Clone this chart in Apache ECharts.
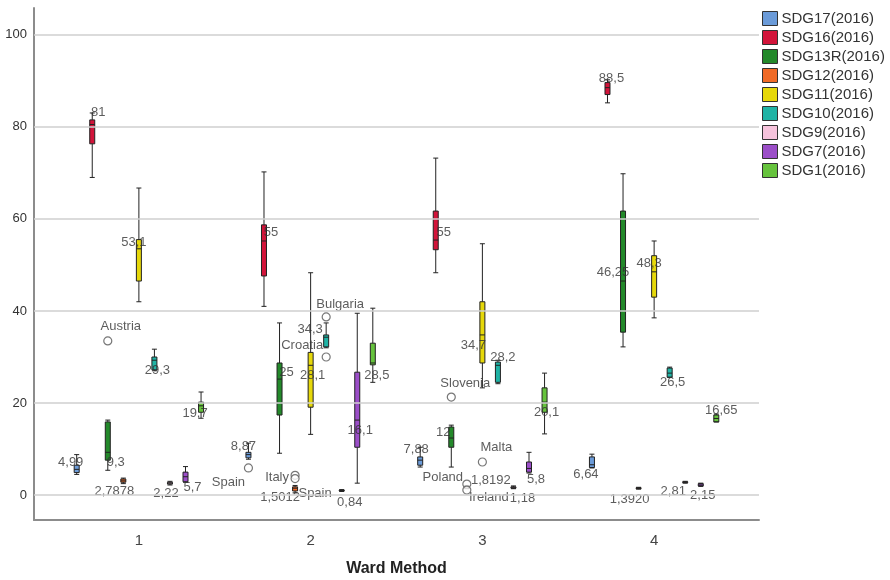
<!DOCTYPE html>
<html>
<head>
<meta charset="utf-8">
<script src="https://cdn.jsdelivr.net/npm/echarts@6/dist/echarts.min.js"></script>
<style>
  html, body { margin: 0; background: #fff; }
  #chart { width: 890px; height: 580px; }
</style>
</head>
<body>
<div id="chart"></div>
<script>
const groups = ['1', '2', '3', '4'];
const names = ['SDG17(2016)', 'SDG16(2016)', 'SDG13R(2016)', 'SDG12(2016)', 'SDG11(2016)',
  'SDG10(2016)', 'SDG9(2016)', 'SDG7(2016)', 'SDG1(2016)'];
const colors = ['#6b9bd9', '#d2143a', '#23892a', '#f06a26', '#e6d80a',
  '#1fb3a5', '#f6c3dc', '#9b4ec8', '#66c33d'];
const yTicks = [0, 20, 40, 60, 80, 100];

// [min, Q1, median, Q3, max] for Ward clusters 1..4
const sdg17 = [[4.5, 4.9, 5.6, 6.5, 8.8], [7.8, 8.1, 8.8, 9.3, 11.3], [6.1, 6.5, 7.6, 8.3, 10.4], [5.9, 6.0, 6.6, 8.3, 8.9]];
const sdg16 = [[69, 76.3, 80.5, 81.5, 83], [41, 47.6, 55.2, 58.7, 70.2], [48.3, 53.3, 55.4, 61.7, 73.2], [85.2, 87, 88.5, 89.6, 90.2]];
const sdg13r = [[5.4, 7.6, 9.3, 15.9, 16.3], [9.1, 17.4, 25.2, 28.7, 37.4], [6.1, 10.4, 12.4, 14.8, 15.2], [32.2, 35.4, 46.5, 61.7, 69.8]];
const sdg12 = [[2.5, 2.8, 3.1, 3.5, 3.7], [0.5, 0.9, 1.5, 1.8, 2.1], [1.4, 1.5, 1.8, 2.0, 2.1], [1.3, 1.4, 1.5, 1.6, 1.7]];
const sdg11 = [[42, 46.5, 53.5, 55.5, 66.7], [13.2, 19.1, 28.2, 31, 48.3], [23.3, 28.7, 34.8, 42, 54.6], [38.5, 43, 48.5, 52, 55.2]];
const sdg10 = [[27, 27.2, 29.3, 30, 31.7], [32, 32.2, 34.3, 34.8, 37.4], [24.2, 24.5, 28.2, 28.9, 29.3], [25.6, 25.6, 26.5, 27.6, 27.8]];
const sdg9 = [[2.2, 2.4, 2.6, 2.8, 3.0], [0.8, 0.9, 1.0, 1.1, 1.2], [1.4, 1.5, 1.7, 1.8, 2.0], [2.6, 2.7, 2.8, 2.9, 3.0]];
const sdg7 = [[2.8, 2.9, 4.0, 5.0, 6.2], [2.6, 10.4, 16.3, 26.7, 39.5], [4.8, 5.0, 5.8, 7.2, 9.3], [1.9, 2.0, 2.2, 2.5, 2.6]];
const sdg1 = [[16.7, 18, 19.4, 20.2, 22.4], [24.5, 28.3, 28.7, 33, 40.6], [13.3, 18, 20.2, 23.3, 26.5], [15.9, 15.9, 16.65, 17.4, 17.6]];
const boxData = [sdg17, sdg16, sdg13r, sdg12, sdg11, sdg10, sdg9, sdg7, sdg1];

// value labels printed next to each box
const sdg17Text = ['4,99', '8,87', '7,88', '6,64'];
const sdg16Text = ['81', '55', '55', '88,5'];
const sdg13rText = ['9,3', '25', '12', '46,25'];
const sdg12Text = ['2,7878', '1,5012', '1,8192', '1,3920'];
const sdg11Text = ['53,1', '28,1', '34,7', '48,3'];
const sdg10Text = ['29,3', '34,3', '28,2', '26,5'];
const sdg9Text = ['2,22', '0,84', '1,18', '2,81'];
const sdg7Text = ['5,7', '16,1', '5,8', '2,15'];
const sdg1Text = ['19,7', '28,5', '20,1', '16,65'];
const labelText = [sdg17Text, sdg16Text, sdg13rText, sdg12Text, sdg11Text, sdg10Text, sdg9Text, sdg7Text, sdg1Text];

// where those labels sit: [shift in px from the box, height on the y scale]
const sdg17At = [[-6, 7.2], [-5, 10.6], [-4, 10.0], [-6, 4.6]];
const sdg16At = [[6, 83.2], [7, 57.1], [8, 57.1], [4, 90.6]];
const sdg13rAt = [[8, 7.2], [7, 26.7], [-8, 13.7], [-10, 48.4]];
const sdg12At = [[-9, 0.9], [-15, -0.4], [24, 3.3], [-9, -0.9]];
const sdg11At = [[-5, 54.9], [2, 26.1], [-9, 32.6], [-5, 50.4]];
const sdg10At = [[3, 27.1], [-16, 36.0], [5, 30.0], [3, 24.5]];
const sdg9At = [[-4, 0.4], [8, -1.5], [9, -0.7], [-12, 0.9]];
const sdg7At = [[7, 1.7], [3, 14.1], [7, 3.5], [2, 0.0]];
const sdg1At = [[-6, 17.8], [4, 26.1], [2, 18.0], [5, 18.5]];
const labelAt = [sdg17At, sdg16At, sdg13rAt, sdg12At, sdg11At, sdg10At, sdg9At, sdg7At, sdg1At];

// outliers (cluster index, series index, value, country)
const outGroup = [0, 1, 1, 1, 1, 1, 2, 2, 2, 2];
const outSeries = [2, 0, 3, 3, 5, 5, 2, 3, 4, 3];
const outValue = [33.5, 5.9, 4.3, 3.6, 38.7, 30.0, 21.3, 2.4, 7.2, 1.1];
const outName = ['Austria', 'Spain', 'Italy', '', 'Bulgaria', 'Croatia', 'Slovenia', 'Poland', 'Malta', 'Ireland'];
const outNameAt = [[13, 36.7], [-20, 2.8], [-18, 3.9], [0, 0], [14, 41.5], [-24, 32.6], [14, 24.3], [-24, 3.9], [14, 10.4], [22, -0.4]];
// case label without a visible circle
const extraName = ['Spain'];
const extraAt = [[1, 3, 20, 0.4]];

// layout of the plot: full frame and the band where the boxes sit
const PLOT_L = 34, PLOT_R = 759, BOX_L = 53, BOX_R = 740, TOP = 8, BOTTOM = 520;
const band = (BOX_R - BOX_L) / groups.length;
const n = names.length;
const avail = band * 0.8 - 2;
const gap = avail / n * 0.3;
const slot = (gap + (avail - gap * (n - 1)) / n) / band;
const xMin = 1 - (BOX_L + band / 2 - PLOT_L) / band;
const xMax = groups.length + (PLOT_R - (BOX_R - band / 2)) / band;
const yMin = -5.4, yMax = 105.8;
const FONT = 'Liberation Sans, Arial, sans-serif';

function xAt(g, s, dx) {
  return g + 1 + (s - (n - 1) / 2) * slot + dx / band;
}

const series = [];
names.forEach(function (name, s) {
  series.push({
    name: name,
    type: 'boxplot',
    xAxisIndex: 1,
    yAxisIndex: 1,
    boxWidth: [5, 5],
    itemStyle: { color: colors[s], borderColor: '#222', borderWidth: 1 },
    emphasis: { disabled: true },
    data: boxData[s]
  });
});

const valueLabels = [];
labelText.forEach(function (texts, s) {
  texts.forEach(function (t, g) {
    valueLabels.push({ name: t, value: [xAt(g, s, labelAt[s][g][0]), labelAt[s][g][1]] });
  });
});
const circles = [];
const caseLabels = [];
outValue.forEach(function (v, i) {
  circles.push([xAt(outGroup[i], outSeries[i], 0), v]);
  if (outName[i]) {
    caseLabels.push({ name: outName[i], value: [xAt(outGroup[i], outSeries[i], outNameAt[i][0]), outNameAt[i][1]] });
  }
});
extraAt.forEach(function (e, i) {
  caseLabels.push({ name: extraName[i], value: [xAt(e[0], e[1], e[2]), e[3]] });
});

const textLabel = { show: true, position: 'inside', formatter: '{b}', color: '#333', fontSize: 13, fontFamily: FONT };

series.push({
  type: 'scatter', xAxisIndex: 0, yAxisIndex: 0, z: 0, silent: true, data: [],
  markLine: {
    silent: true, symbol: 'none', label: { show: false },
    lineStyle: { color: '#cfcfcf', width: 1.5, type: 'solid' },
    data: yTicks.map(function (t) { return { yAxis: t }; })
  }
});
series.push({
  type: 'scatter', xAxisIndex: 0, yAxisIndex: 0, z: 3, silent: true,
  symbol: 'circle', symbolSize: 8,
  itemStyle: { color: '#fff', borderColor: '#555', borderWidth: 1.2 },
  data: circles
});
series.push({
  type: 'scatter', xAxisIndex: 0, yAxisIndex: 0, z: 4, silent: true,
  symbolSize: 0, label: textLabel, data: valueLabels
});
series.push({
  type: 'scatter', xAxisIndex: 0, yAxisIndex: 0, z: 4, silent: true,
  symbolSize: 0, label: textLabel, data: caseLabels
});

const chart = echarts.init(document.getElementById('chart'));
chart.setOption({
  animation: false,
  backgroundColor: '#fff',
  legend: {
    data: names.map(function (nm, i) {
      return { name: nm, itemStyle: { color: colors[i], borderColor: '#333', borderWidth: 1 } };
    }),
    orient: 'vertical',
    left: 762,
    top: 11,
    padding: 0,
    itemWidth: 15,
    itemHeight: 14,
    itemGap: 4,
    icon: 'rect',
    selectedMode: false,
    textStyle: { fontSize: 15, color: '#333', fontFamily: FONT, padding: [0, 0, 0, -1] }
  },
  grid: [
    { left: PLOT_L, right: 890 - PLOT_R, top: TOP, bottom: 580 - BOTTOM, outerBoundsMode: 'none' },
    { left: BOX_L, right: 890 - BOX_R, top: TOP, bottom: 580 - BOTTOM, outerBoundsMode: 'none' }
  ],
  xAxis: [
    {
      type: 'value', gridIndex: 0, min: xMin, max: xMax,
      axisLine: { show: true, onZero: false, lineStyle: { color: '#8c8c8c', width: 2 } },
      axisTick: { show: false }, axisLabel: { show: false }, splitLine: { show: false },
      name: 'Ward Method', nameLocation: 'middle', nameGap: 41,
      nameTextStyle: { fontSize: 16, fontWeight: 'bold', color: '#222', fontFamily: FONT }
    },
    {
      type: 'category', gridIndex: 1, data: groups,
      axisLine: { show: false }, axisTick: { show: false },
      axisLabel: { fontSize: 15, color: '#444', margin: 13, fontFamily: FONT }
    }
  ],
  yAxis: [
    {
      type: 'value', gridIndex: 0, min: yMin, max: yMax,
      axisLine: { show: true, lineStyle: { color: '#8c8c8c', width: 2 } },
      axisTick: { show: false }, splitLine: { show: false },
      axisLabel: { customValues: yTicks, fontSize: 13, color: '#333', margin: 7, fontFamily: FONT }
    },
    {
      type: 'value', gridIndex: 1, min: yMin, max: yMax, show: false, splitLine: { show: false }
    }
  ],
  series: series
});
</script>
</body>
</html>
